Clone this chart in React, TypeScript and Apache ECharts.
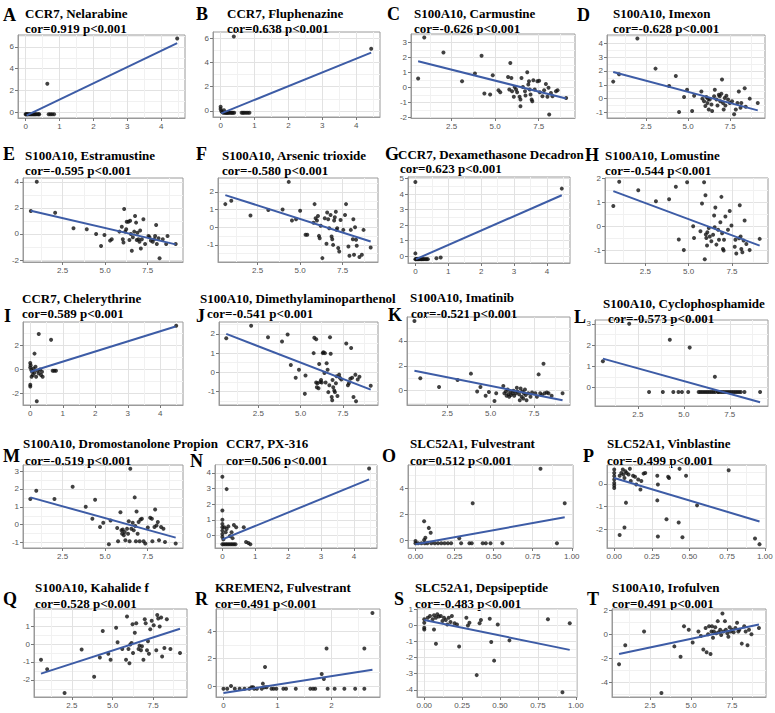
import React, { useEffect, useRef } from "react";
import * as echarts from "echarts";

type Pt = [number, number];

// ---- panel text ----
const letters = ["A", "B", "C", "D", "E", "F", "G", "H", "I", "J", "K", "L", "M", "N", "O", "P", "Q", "R", "S", "T"];
const genes = [
  "CCR7", "CCR7", "S100A10", "S100A10", "S100A10", "S100A10", "CCR7", "S100A10", "CCR7", "S100A10",
  "S100A10", "S100A10", "S100A10", "CCR7", "SLC52A1", "SLC52A1", "S100A10", "KREMEN2", "SLC52A1", "S100A10",
];
const drugs = [
  "Nelarabine", "Fluphenazine", "Carmustine", "Imexon", "Estramustine", "Arsenic trioxide",
  "Dexamethasone Decadron", "Lomustine", "Chelerythrine", "Dimethylaminoparthenol", "Imatinib",
  "Cyclophosphamide", "Dromostanolone Propion", "PX-316", "Fulvestrant", "Vinblastine", "Kahalide f",
  "Fulvestrant", "Depsipeptide", "Irofulven",
];
const corValues = [
  0.919, 0.638, -0.626, -0.628, -0.595, -0.58, 0.623, -0.544, 0.589, -0.541,
  -0.521, -0.573, -0.519, 0.506, 0.512, -0.499, 0.528, 0.491, -0.483, 0.491,
];

// ---- scatter points per panel ----
const ptsA: Pt[] = [
  [0, -0.2], [0.02, -0.2], [0.04, -0.2], [0.06, -0.2], [0.09, -0.2], [0.12, -0.2], [0.15, -0.2], [0.18, -0.2],
  [0.21, -0.2], [0.24, -0.2], [0.27, -0.2], [0.3, -0.2], [0.34, -0.2], [0.38, -0.2], [0.4, -0.2], [0.68, -0.2],
  [0.73, -0.2], [0.78, -0.2], [0.84, -0.2], [0.64, 2.6], [4.47, 6.78],
];
const ptsB: Pt[] = [
  [0, 0.35], [0, 0.15], [0.02, 0], [0.05, -0.1], [0.08, -0.15], [0.1, 0.05], [0.12, -0.15], [0.15, -0.15],
  [0.18, -0.15], [0.2, -0.15], [0.23, -0.15], [0.26, -0.15], [0.3, -0.15], [0.33, -0.15], [0.36, -0.15],
  [0.4, -0.15], [0.62, -0.15], [0.66, -0.15], [0.7, -0.15], [0.75, -0.15], [0.8, -0.15], [0.85, -0.15],
  [0.39, 6.13], [4.44, 5.12],
];
const ptsC: Pt[] = [
  [0.58, 0.58], [0.93, 3.32], [2.03, 2.32], [3.1, 0.4], [3.84, 0.91], [4.22, 2.1], [4.38, -0.42], [4.71, -0.49],
  [4.86, 0.8], [5.19, -0.2], [5.29, -0.33], [5.74, 0.69], [5.87, 1.62], [5.93, 0.62], [5.81, -0.15], [5.97, -0.27],
  [6.07, -0.64], [6.12, 0.02], [6.2, -0.15], [6.26, -0.33], [6.4, -0.64], [6.45, -0.82], [6.51, 0.62], [6.45, -1.26],
  [6.59, 0.02], [6.71, -0.27], [6.74, -0.55], [6.84, 1.0], [6.9, 0.18], [6.94, 0.4], [6.98, -0.15], [7.03, -0.49],
  [7.09, -0.82], [7.13, -0.93], [7.19, 0.46], [7.27, -0.15], [7.42, 0.4], [7.52, 0.44], [7.56, -0.33], [7.71, -0.6],
  [7.81, -0.2], [7.91, 0.22], [8.0, -0.64], [8.06, -0.04], [8.1, -1.81], [8.2, -0.38], [8.29, -0.6], [8.49, -0.27],
  [8.58, -0.2], [9.07, -0.71],
];
const ptsD: Pt[] = [
  [0.54, 1.23], [0.89, 1.77], [1.98, 4.34], [3.06, 2.17], [4.27, 1.63], [3.87, 0.92], [4.46, -0.97], [4.76, 0.12],
  [4.94, 0.64], [5.24, -0.9], [5.36, 0.21], [5.79, 0.52], [5.85, 0], [5.95, -0.19], [6.03, -0.54], [6.09, 0.12],
  [6.15, -0.31], [6.19, -0.02], [6.23, -0.78], [6.29, -0.07], [6.39, -0.42], [6.43, -0.9], [6.55, 0.17], [6.59, 0.64],
  [6.69, -0.07], [6.75, -0.5], [6.83, 0.28], [6.88, 0.17], [6.92, -0.19], [6.98, 0.35], [7.02, 1.39], [7.08, -0.31],
  [7.12, -0.78], [7.18, 0.05], [7.22, -0.5], [7.28, 0.21], [7.38, -0.07], [7.48, -0.31], [7.62, -0.19], [7.74, -1.13],
  [7.84, -0.78], [7.94, -0.31], [8.02, 0.52], [8.12, -0.66], [8.17, -0.31], [8.37, 0.75], [8.43, -0.59], [8.67, 0],
  [9.15, -0.31],
];
const ptsE: Pt[] = [
  [0.63, 1.76], [0.98, 4.0], [2.06, 1.63], [3.14, 0.43], [3.92, 0.36], [4.47, 0], [4.76, -0.92], [4.96, -0.08],
  [5.29, -0.51], [5.39, -0.41], [5.84, 0.18], [5.98, 0.56], [6.04, -0.41], [6.08, -0.66], [6.12, 1.91], [6.18, 0.18],
  [6.24, 0.36], [6.27, 0.94], [6.37, 0.94], [6.43, -0.46], [6.47, 1.02], [6.51, 0], [6.57, -1.28], [6.63, -0.26],
  [6.71, 0.18], [6.76, 1.38], [6.82, 0.87], [6.86, -0.46], [6.9, 0.1], [6.96, -0.41], [7.02, -0.59], [7.06, 0.26],
  [7.1, -1.12], [7.16, -0.41], [7.25, 1.12], [7.35, -0.77], [7.55, -0.15], [7.61, -0.26], [7.69, -0.51], [7.8, -0.59],
  [7.88, -0.41], [7.94, -0.15], [8.0, 0.69], [8.04, -0.77], [8.14, -0.33], [8.2, -1.86], [8.39, -0.41], [8.59, -0.77],
  [8.67, -0.15], [9.15, -0.77],
];
const ptsF: Pt[] = [
  [0.6, 1.31], [0.95, 1.5], [2.08, 0.66], [3.13, 0.98], [3.97, 1.01], [4.33, 2.57], [4.52, 0.38], [4.76, 0.45],
  [5.0, 0.94], [5.32, -0.43], [5.42, -0.43], [5.79, 0.26], [5.85, 1.31], [5.91, 0.51], [5.99, 0.38], [6.05, 0.64],
  [6.11, -0.49], [6.15, -0.62], [6.21, 0.08], [6.31, -1.75], [6.45, 0.51], [6.55, -0.94], [6.59, 0.83], [6.65, 0.45],
  [6.71, -0.06], [6.79, 0.69], [6.85, -0.53], [6.89, -0.68], [6.94, -1.0], [7.0, 0.38], [7.04, 0.56], [7.1, 0.88],
  [7.14, -0.15], [7.18, -0.06], [7.24, -1.18], [7.3, -1.37], [7.38, 0.41], [7.54, -0.15], [7.64, 0.69], [7.7, 1.31],
  [7.84, -1.09], [7.9, -1.62], [7.98, -0.15], [8.1, -0.68], [8.13, 0.45], [8.17, -1.56], [8.23, 0], [8.29, -0.71],
  [8.33, -1.05], [8.49, -1.69], [8.63, -1.56], [8.73, -0.15], [9.15, -1.15],
];
const ptsG: Pt[] = [
  [0, 4.78], [4.45, 4.35], [0, 0.17], [0, -0.2], [0.02, -0.2], [0.04, -0.2], [0.06, -0.2], [0.08, -0.2], [0.1, -0.2],
  [0.12, -0.2], [0.15, -0.2], [0.18, -0.2], [0.2, -0.2], [0.23, -0.2], [0.26, -0.2], [0.3, -0.2], [0.34, -0.2],
  [0.38, -0.2], [0.64, -0.15], [0.77, -0.09],
];
const ptsH: Pt[] = [
  [0.65, 0.86], [0.99, 1.87], [2.09, 1.52], [3.11, 1.06], [3.87, 1.14], [4.26, 1.66], [4.43, -0.55], [4.72, -0.99],
  [4.91, 1.85], [5.26, 0.01], [5.31, -0.48], [5.68, -0.2], [5.77, 0.96], [5.89, 1.85], [5.93, -1.37], [5.97, 1.31],
  [5.99, -0.34], [6.02, -0.48], [6.06, -0.8], [6.08, -0.24], [6.16, -0.06], [6.22, -0.42], [6.31, -0.62], [6.41, -0.35],
  [6.47, 0.46], [6.5, -0.03], [6.54, 0.79], [6.6, -0.76], [6.7, -0.14], [6.75, -0.56], [6.83, 0.18], [6.89, 1.24],
  [6.93, -0.28], [6.98, -0.94], [7.02, -1.01], [7.04, -0.56], [7.12, 0.42], [7.27, -0.14], [7.37, 0.65], [7.47, 0.04],
  [7.66, -0.85], [7.7, -0.56], [7.75, -1.13], [7.91, -0.49], [7.95, 0.89], [8.0, -0.42], [8.04, -0.94], [8.1, -1.08],
  [8.17, -0.59], [8.23, 0.25], [8.33, -0.73], [8.52, -0.99], [9.1, -0.52],
];
const ptsI: Pt[] = [
  [4.49, 3.62], [0.26, 2.94], [0.64, 2.45], [0.13, 1.31], [0.2, -2.64], [0, -1.28], [0, -1.41], [0, 0.54],
  [0, 0.16], [0.03, -0.05], [0.06, -0.19], [0.08, -0.46], [0.1, 0.08], [0.13, -0.27], [0.16, 0.22], [0.18, -0.6],
  [0.23, -0.11], [0.26, -0.33], [0.3, 0], [0.33, -0.46], [0.36, -0.19], [0.38, -0.6], [0.01, 0.35], [0.04, -0.6],
  [0.69, -0.11], [0.74, -0.11], [0.79, -0.11],
];
const ptsJ: Pt[] = [
  [0.6, 1.77], [2.07, 2.42], [3.07, 1.83], [3.9, 1.6], [4.23, 1.97], [4.42, 0.38], [4.71, -0.28], [4.9, 0.13],
  [5.25, -1.12], [5.29, -0.17], [5.77, 1.0], [5.81, 1.8], [5.92, 1.72], [5.92, -0.53], [5.96, -0.78], [6.0, -0.57],
  [6.06, -0.83], [6.1, 0.43], [6.16, -0.5], [6.21, -0.4], [6.25, -0.53], [6.31, 1.0], [6.35, 1.05], [6.41, -0.03],
  [6.44, 1.0], [6.48, -0.53], [6.54, 0.47], [6.6, 0.13], [6.64, -1.03], [6.7, -0.67], [6.74, 1.83], [6.78, 0.97],
  [6.84, -1.28], [6.87, -1.45], [6.89, -0.4], [6.93, -0.78], [6.99, -0.95], [7.03, -1.03], [7.09, -0.57], [7.13, -0.2],
  [7.18, -1.23], [7.28, -0.12], [7.32, -0.28], [7.41, -0.37], [7.7, 1.5], [7.8, -0.67], [7.86, -0.57], [7.94, -0.33],
  [7.99, 1.27], [8.05, -0.28], [8.13, -1.28], [8.24, -0.12], [8.28, -1.5], [8.38, -0.37], [8.48, -0.23], [9.15, -0.7],
];
const ptsK: Pt[] = [
  [0.6, 5.6], [0.94, 1.0], [2.02, 0.29], [3.09, 0.86], [3.86, 1.37], [4.22, -0.06], [4.41, 0.29], [4.71, -0.4],
  [4.9, -0.11], [5.22, -0.83], [5.32, -0.2], [5.73, 0.37], [5.79, -0.2], [5.88, -0.06], [5.92, -0.4], [5.98, 0.09],
  [6.03, -0.29], [6.07, -0.49], [6.13, -0.06], [6.17, -0.34], [6.26, -0.2], [6.32, 0], [6.36, -0.4], [6.45, -0.2],
  [6.51, 0.23], [6.54, -0.06], [6.64, -0.29], [6.68, -0.77], [6.73, 0.17], [6.79, -0.49], [6.83, -0.06], [6.88, -0.63],
  [6.92, -0.2], [6.98, 0.09], [7.02, -0.34], [7.07, -0.77], [7.17, -0.2], [7.3, -0.49], [7.39, -0.14], [7.58, -0.2],
  [7.67, -0.49], [7.77, 1.31], [7.86, -0.2], [7.96, -0.34], [8.05, 2.17], [8.11, -0.2], [8.24, -0.14], [8.34, -0.2],
  [8.52, -0.4], [9.15, -0.2],
];
const ptsL: Pt[] = [
  [0.6, 1.24], [2.03, 3.0], [3.11, -0.21], [3.86, -0.21], [4.24, 2.25], [4.43, -0.21], [4.71, -0.21], [4.9, -0.21],
  [5.24, -0.21], [5.32, 1.88], [5.81, -0.21], [5.9, -0.21], [6.0, -0.21], [6.1, -0.21], [6.2, -0.21], [6.3, -0.21],
  [6.4, -0.21], [6.5, -0.21], [6.6, -0.21], [6.7, -0.21], [6.85, -0.21], [6.9, -0.21], [7.0, -0.21], [7.1, -0.21],
  [7.2, -0.21], [7.3, -0.21], [7.4, -0.21], [7.5, -0.21], [7.6, -0.21], [7.7, -0.21], [7.8, -0.21], [7.9, -0.21],
  [8.0, -0.21], [8.1, -0.21], [8.3, -0.21], [6.69, 0.51], [9.15, -0.21],
];
const ptsM: Pt[] = [
  [0.6, 1.44], [0.95, 1.9], [2.02, 1.44], [3.09, 2.12], [3.86, 1.01], [4.25, 0.33], [4.41, 1.4], [4.7, -0.13],
  [4.89, 0.11], [5.22, -1.09], [5.32, 0.24], [5.71, -0.18], [5.76, -0.92], [5.9, 0.7], [5.96, -0.31], [6.0, -0.5],
  [6.04, -0.26], [6.1, -0.59], [6.15, -0.41], [6.19, -0.87], [6.29, -0.22], [6.35, -0.5], [6.39, 0.2], [6.44, -0.92],
  [6.48, 3.13], [6.54, -0.22], [6.62, 0.11], [6.68, -0.31], [6.74, 1.53], [6.77, -0.07], [6.81, -0.92], [6.85, 0.74],
  [6.91, -0.5], [6.97, 0.15], [7.03, -0.92], [7.08, 0.29], [7.16, 0.33], [7.26, -0.92], [7.36, -1.05], [7.51, -0.15],
  [7.65, 0.39], [7.75, 0.33], [7.78, -0.92], [7.9, -0.13], [7.94, 0.85], [8.02, -0.04], [8.1, 0.15], [8.17, -0.87],
  [8.29, -0.13], [8.43, -0.22], [8.52, -0.96], [9.15, -1.05],
];
const ptsN: Pt[] = [
  [4.46, 4.27], [0, 3.75], [0.13, 2.96], [0, 1.6], [0, 1.0], [0, 0.73], [0, 0.52], [0, 0.31], [0, 0.1], [0, -0.1],
  [0.03, -0.25], [0.06, 0.52], [0.1, 0.21], [0.13, 0.42], [0.18, 0.58], [0.23, -0.04], [0.28, 0.21], [0.31, -0.17],
  [0.35, 0.67], [0.42, 0.52], [0.65, 0.52], [0.72, -0.42], [0.79, -0.48], [0.85, -0.56], [0, -0.56], [0.05, -0.56],
  [0.1, -0.56], [0.15, -0.56], [0.2, -0.56], [0.25, -0.56], [0.3, -0.56], [0.35, -0.56], [0.4, -0.56],
];
const ptsO: Pt[] = [
  [0.8, 5.53], [0.366, 2.85], [0.955, 2.85], [0.055, 1.45], [0.085, 0.94], [0.097, 0.56], [0.063, 0.18], [0.055, 0],
  [0.28, 0.13], [0, -0.08], [0, -0.25], [0.017, -0.25], [0.038, -0.25], [0.059, -0.25], [0.076, -0.25], [0.101, -0.25],
  [0.123, -0.25], [0.144, -0.25], [0.165, -0.25], [0.186, -0.25], [0.207, -0.25], [0.228, -0.25], [0.292, -0.25],
  [0.345, -0.25], [0.36, -0.25], [0.43, -0.25], [0.45, -0.25], [0.48, -0.25], [0.556, -0.25], [0.905, -0.25],
];
const ptsP: Pt[] = [
  [0, 0.63], [0, 0.48], [0, 0.34], [0, 0.19], [0, 0.04], [0, -0.07], [0, -0.18], [0.036, 0.36], [0.047, 0.48],
  [0.057, 0.63], [0.061, 0.41], [0.068, 0.26], [0.074, 0.55], [0.083, 0.48], [0.095, 0.41], [0.104, 0.66], [0.11, 0.12],
  [0.125, 0.36], [0.138, 0.31], [0.146, -0.03], [0.159, 0.19], [0.174, -0.25], [0.18, 0.12], [0.195, 0.45],
  [0.206, 0.48], [0.286, 0.36], [0.29, -0.03], [0.358, 0.31], [0.364, 0.26], [0.434, 0.66], [0.477, 0.36],
  [0.76, 0.6], [0.078, -0.83], [0.068, -1.93], [0.036, -2.26], [0.286, -0.73], [0.29, -2.32], [0.347, -1.56],
  [0.428, -1.71], [0.453, -2.36], [0.55, -0.95], [0.935, -2.41], [0.965, -2.66],
];
const ptsQ: Pt[] = [
  [0.6, -0.88], [0.98, -1.41], [2.05, -2.73], [3.1, -0.31], [3.87, -1.82], [4.22, -0.75], [4.4, 0.72], [4.74, -0.54],
  [4.88, -0.88], [5.22, 0.91], [5.31, 0.1], [5.6, -0.28], [5.83, -0.88], [5.89, 1.53], [5.98, -0.28], [6.04, -1.07],
  [6.09, -0.03], [6.17, 0.06], [6.23, 1.1], [6.26, -0.5], [6.37, 0.63], [6.46, 1.16], [6.6, -0.28], [6.66, -0.09],
  [6.75, -0.35], [6.81, -0.13], [6.9, -0.88], [6.98, 1.38], [7.04, 1.16], [7.12, -0.35], [7.18, 0.16], [7.24, -0.54],
  [7.32, 0.82], [7.41, 1.29], [7.53, 1.04], [7.69, -0.35], [7.75, 1.61], [7.81, 1.42], [7.9, 0.97], [7.99, 1.48],
  [8.05, -0.69], [8.19, -0.22], [8.34, 1.38], [8.56, -0.28], [9.15, -0.5],
];
const ptsR: Pt[] = [
  [2.76, 5.35], [1.91, 2.75], [2.61, 2.75], [0.77, 1.4], [1.82, 0.89], [1.86, 0.51], [0.73, 0.18], [0.14, 0],
  [0, -0.2], [0.07, -0.2], [0.21, -0.2], [0.3, -0.2], [0.39, -0.2], [0.48, -0.2], [0.57, -0.2], [0.62, -0.2],
  [0.71, -0.2], [0.89, -0.2], [0.93, -0.2], [0.98, -0.2], [1.11, -0.2], [1.16, -0.2], [1.34, -0.2], [1.61, -0.2],
  [1.66, -0.2], [1.7, -0.2], [1.93, -0.2], [2.06, -0.2], [2.24, -0.2], [2.44, -0.2], [2.61, -0.2], [0.52, -0.08],
  [0.55, -0.08], [0.76, -0.08], [0.8, -0.08],
];
const ptsS: Pt[] = [
  [0, 0.38], [0, 0.17], [0, -0.15], [0, -0.25], [0.023, 0.48], [0.038, 0.59], [0.055, 0.38], [0.064, 0.63],
  [0.077, 0.48], [0.086, 0.69], [0.096, 0.55], [0.109, 0.59], [0.12, 0.27], [0.13, 0.48], [0.142, 0.34],
  [0.152, 0.06], [0.161, 0.48], [0.173, 0.21], [0.182, 0.59], [0.2, 0.13], [0.216, 0.06], [0.064, -0.25],
  [0.077, -1.14], [0.23, -1.31], [0.278, 0.48], [0.288, 0], [0.298, 0.17], [0.365, 0.13], [0.374, 0.34],
  [0.346, -3.09], [0.432, 0.42], [0.442, -1.03], [0.461, -2.19], [0.485, 0.06], [0.562, -0.93], [0.816, 0.38],
  [0.96, 0.13], [0.912, -4.15],
];
const ptsT: Pt[] = [
  [0.6, -2.5], [0.98, -0.92], [2.13, 0.23], [3.19, -4.89], [3.98, -1.01], [4.36, -1.87], [4.57, 0.66], [4.86, 0.37],
  [5.1, -0.69], [5.45, 0.23], [5.6, -0.14], [5.75, -1.27], [5.89, 0.52], [5.95, -1.5], [6.04, 0], [6.1, 0.66],
  [6.19, -1.64], [6.25, 0.23], [6.28, 0.66], [6.34, -0.29], [6.39, 0.23], [6.48, 0.58], [6.54, 0.09], [6.63, 1.09],
  [6.69, 0.17], [6.78, 0.37], [6.84, -0.06], [6.92, 1.73], [6.98, 0.23], [7.07, 1.09], [7.13, 0.37], [7.22, 0.09],
  [7.28, -0.2], [7.36, 0.58], [7.42, 0.23], [7.51, 0.37], [7.6, 0.17], [7.71, 0.52], [7.81, 0.95], [7.89, 0.23],
  [7.95, 0.37], [8.1, -0.78], [8.25, 0.66], [8.34, 0.23], [8.45, -0.92], [8.54, 0.37], [8.69, 0], [9.15, 0.52],
];

const panelPoints: Pt[][] = [
  ptsA, ptsB, ptsC, ptsD, ptsE, ptsF, ptsG, ptsH, ptsI, ptsJ,
  ptsK, ptsL, ptsM, ptsN, ptsO, ptsP, ptsQ, ptsR, ptsS, ptsT,
];

// ---- fitted regression lines (start and end point) ----
const fitLines: Pt[][] = [
  [[0.03, -0.3], [4.47, 6.35]],
  [[0.02, -0.2], [4.44, 4.8]],
  [[0.58, 1.73], [9.07, -0.75]],
  [[0.54, 1.93], [9.15, -0.85]],
  [[0.63, 1.78], [9.15, -0.8]],
  [[0.6, 1.82], [9.15, -0.81]],
  [[0.02, -0.2], [4.45, 3.92]],
  [[0.65, 1.48], [9.1, -0.8]],
  [[0, -0.19], [4.47, 3.56]],
  [[0.6, 2.0], [9.15, -0.9]],
  [[0.6, 1.6], [9.15, -0.77]],
  [[0.6, 1.36], [9.15, -0.69]],
  [[0.6, 1.53], [9.15, -0.72]],
  [[0, -0.25], [4.46, 3.58]],
  [[0, -0.33], [0.955, 1.76]],
  [[0, 0.26], [0.965, -1.66]],
  [[0.6, -1.65], [9.15, 0.85]],
  [[0, -0.51], [2.76, 1.2]],
  [[0, 0.34], [0.96, -1.52]],
  [[0.6, -1.64], [9.15, 0.81]],
];

// ---- axis domains and tick labels ----
const ccr7X: Pt = [-0.224, 4.7];
const s100X: Pt = [0.17, 9.58];
const slcX: Pt = [-0.048, 1.008];
const xDomains: Pt[] = [
  ccr7X, ccr7X, s100X, s100X, s100X, s100X, ccr7X, s100X, ccr7X, s100X,
  s100X, s100X, s100X, ccr7X, slcX, slcX, s100X, [-0.138, 2.9], slcX, s100X,
];
const yDomains: Pt[] = [
  [-0.55, 7.1], [-0.5, 6.5], [-2.05, 3.55], [-1.4, 4.6], [-2.15, 4.29],
  [-1.97, 2.79], [-0.45, 5.1], [-1.53, 2.03], [-2.95, 3.93], [-1.7, 2.62],
  [-1.15, 5.92], [-0.87, 3.18], [-1.3, 3.34], [-0.8, 4.5], [-0.62, 5.82],
  [-2.83, 0.83], [-2.95, 1.95], [-0.8, 5.64], [-4.45, 1.02], [-5.22, 2.1],
];
const ccr7Ticks = [0, 1, 2, 3, 4];
const s100Ticks = [2.5, 5.0, 7.5];
const slcTicks = [0, 0.25, 0.5, 0.75, 1.0];
const xTicks: number[][] = [
  ccr7Ticks, ccr7Ticks, s100Ticks, s100Ticks, s100Ticks, s100Ticks, ccr7Ticks, s100Ticks, ccr7Ticks, s100Ticks,
  s100Ticks, s100Ticks, s100Ticks, ccr7Ticks, slcTicks, slcTicks, s100Ticks, [0, 1, 2], slcTicks, s100Ticks,
];
const xDecimals = [0, 0, 1, 1, 1, 1, 0, 1, 0, 1, 1, 1, 1, 0, 2, 2, 1, 0, 2, 1];
const yTicks: number[][] = [
  [0, 2, 4, 6], [0, 2, 4, 6], [-2, -1, 0, 1, 2, 3], [-1, 0, 1, 2, 3, 4], [-2, 0, 2, 4],
  [-2, -1, 0, 1, 2], [0, 1, 2, 3, 4, 5], [-1, 0, 1, 2], [-2, 0, 2], [-1, 0, 1, 2],
  [0, 2, 4], [0, 1, 2, 3], [-1, 0, 1, 2, 3], [0, 1, 2, 3, 4], [0, 2, 4],
  [-2, -1, 0], [-2, -1, 0, 1], [0, 2, 4], [-4, -3, -2, -1, 0, 1], [-4, -2, 0, 2],
];

// ---- page layout: plot box [left, top, right, bottom], letter and title anchors ----
const layout = [
  { box: [18, 35, 185, 118], letter: [3, 15], t1: [25, 13], t2: [25, 28] },
  { box: [213, 32, 380, 117], letter: [196, 14], t1: [227, 13], t2: [227, 28] },
  { box: [411, 34, 575, 118], letter: [387, 14], t1: [414, 13], t2: [414, 28] },
  { box: [607, 35, 765, 118], letter: [577, 15], t1: [613, 13], t2: [613, 28] },
  { box: [23, 178, 183, 262], letter: [3, 154], t1: [25, 155], t2: [25, 170] },
  { box: [218, 178, 378, 262], letter: [196, 154], t1: [222, 155], t2: [222, 170] },
  { box: [408, 177, 570, 263], letter: [385, 154], t1: [398, 154], t2: [400, 168] },
  { box: [605, 178, 768, 263], letter: [585, 155], t1: [605, 155], t2: [605, 170] },
  { box: [23, 322, 183, 405], letter: [4, 316], t1: [22, 298], t2: [22, 313] },
  { box: [219, 322, 378, 405], letter: [196, 316], t1: [200, 298], t2: [207, 313] },
  { box: [407, 317, 570, 405], letter: [388, 315], t1: [410, 297], t2: [411, 313] },
  { box: [595, 320, 768, 406], letter: [574, 317], t1: [603, 303], t2: [608, 318] },
  { box: [23, 465, 183, 548], letter: [3, 456], t1: [23, 443], t2: [25, 460] },
  { box: [215, 465, 377, 548], letter: [190, 461], t1: [226, 443], t2: [226, 460] },
  { box: [408, 465, 573, 548], letter: [382, 456], t1: [410, 443], t2: [410, 460] },
  { box: [607, 465, 766, 548], letter: [583, 456], t1: [607, 443], t2: [607, 460] },
  { box: [34, 609, 187, 697], letter: [3, 599], t1: [35, 587], t2: [35, 603] },
  { box: [216, 609, 380, 697], letter: [195, 599], t1: [215, 587], t2: [215, 603] },
  { box: [417, 609, 577, 697], letter: [394, 599], t1: [415, 587], t2: [415, 603] },
  { box: [612, 609, 766, 697], letter: [587, 599], t1: [612, 587], t2: [612, 603] },
];

const BORDER = "#9a9a9a";
const MAJOR_GRID = "#e2e2e2";
const MINOR_GRID = "#f1f1f1";
const TICK_TEXT = "#555555";
const FIT_BLUE = "#3d5ca6";
const TITLE_FONT = 'bold 13px "Liberation Serif", "Times New Roman", serif';
const LETTER_FONT = 'bold 18px "Liberation Serif", "Times New Roman", serif';

// minor grid lines sit halfway between major breaks (one extra step each side)
function minorsOf(ticks: number[]): number[] {
  const step = ticks.length > 1 ? ticks[1] - ticks[0] : 1;
  const out: number[] = [];
  for (let k = -1; k < ticks.length; k++) {
    const base = k < 0 ? ticks[0] - step : ticks[k];
    out.push(+(base + step / 2).toFixed(6));
  }
  return out;
}

function majorAxis(dim: "x" | "y", gi: number, dom: Pt, ticks: number[], dec: number) {
  return {
    type: "value",
    gridIndex: gi,
    position: dim === "x" ? "bottom" : "left",
    min: dom[0],
    max: dom[1],
    axisLine: { show: true, onZero: false, lineStyle: { color: BORDER, width: 1 } },
    axisTick: { show: true, length: 3, customValues: ticks, lineStyle: { color: "#777", width: 1 } },
    axisLabel: {
      show: true,
      customValues: ticks,
      formatter: (v: number) => v.toFixed(dec),
      color: TICK_TEXT,
      fontSize: 8,
      fontFamily: '"Liberation Sans", Arial, sans-serif',
      margin: 4,
    },
    splitLine: { show: true, lineStyle: { color: MAJOR_GRID, width: 1 } },
    minorTick: { show: false },
    minorSplitLine: { show: false },
  };
}

function minorAxis(dim: "x" | "y", gi: number, dom: Pt, ticks: number[]) {
  return {
    type: "value",
    gridIndex: gi,
    position: dim === "x" ? "top" : "right",
    min: dom[0],
    max: dom[1],
    axisLine: { show: false },
    axisTick: { show: false, customValues: minorsOf(ticks) },
    axisLabel: { show: false },
    splitLine: { show: true, lineStyle: { color: MINOR_GRID, width: 1 } },
  };
}

function buildOption() {
  const grid: any[] = [];
  const xAxis: any[] = [];
  const yAxis: any[] = [];
  const series: any[] = [];
  const graphic: any[] = [];

  layout.forEach((L, i) => {
    const [l, t, r, b] = L.box;
    grid.push({
      left: l,
      top: t,
      width: r - l,
      height: b - t,
      show: true,
      backgroundColor: "#ffffff",
      borderColor: BORDER,
      borderWidth: 1,
      containLabel: false,
      outerBoundsMode: "none",
    });
    xAxis.push(majorAxis("x", i, xDomains[i], xTicks[i], xDecimals[i]));
    xAxis.push(minorAxis("x", i, xDomains[i], xTicks[i]));
    yAxis.push(majorAxis("y", i, yDomains[i], yTicks[i], 0));
    yAxis.push(minorAxis("y", i, yDomains[i], yTicks[i]));

    series.push({
      type: "scatter",
      xAxisIndex: 2 * i,
      yAxisIndex: 2 * i,
      data: panelPoints[i],
      symbolSize: 4,
      itemStyle: { color: "#111111" },
      silent: true,
      z: 3,
    });
    series.push({
      type: "line",
      xAxisIndex: 2 * i,
      yAxisIndex: 2 * i,
      data: fitLines[i],
      showSymbol: false,
      symbol: "none",
      lineStyle: { color: FIT_BLUE, width: 2 },
      silent: true,
      z: 4,
    });

    graphic.push({
      type: "text",
      x: L.letter[0],
      y: L.letter[1],
      silent: true,
      style: { text: letters[i], font: LETTER_FONT, fill: "#000", verticalAlign: "middle" },
    });
    graphic.push({
      type: "text",
      x: L.t1[0],
      y: L.t1[1],
      silent: true,
      style: { text: `${genes[i]}, ${drugs[i]}`, font: TITLE_FONT, fill: "#000", verticalAlign: "middle" },
    });
    graphic.push({
      type: "text",
      x: L.t2[0],
      y: L.t2[1],
      silent: true,
      style: {
        text: `cor=${corValues[i].toFixed(3)} p<0.001`,
        font: TITLE_FONT,
        fill: "#000",
        verticalAlign: "middle",
      },
    });
  });

  return {
    animation: false,
    backgroundColor: "#ffffff",
    grid,
    xAxis,
    yAxis,
    series,
    graphic,
  };
}

export default function App() {
  const ref = useRef<HTMLDivElement>(null);

  useEffect(() => {
    document.body.style.margin = "0";
    if (!ref.current) return;
    const chart = echarts.init(ref.current, null, { renderer: "svg" });
    chart.setOption(buildOption() as any);
    return () => chart.dispose();
  }, []);

  return <div ref={ref} style={{ width: 775, height: 713 }} />;
}
